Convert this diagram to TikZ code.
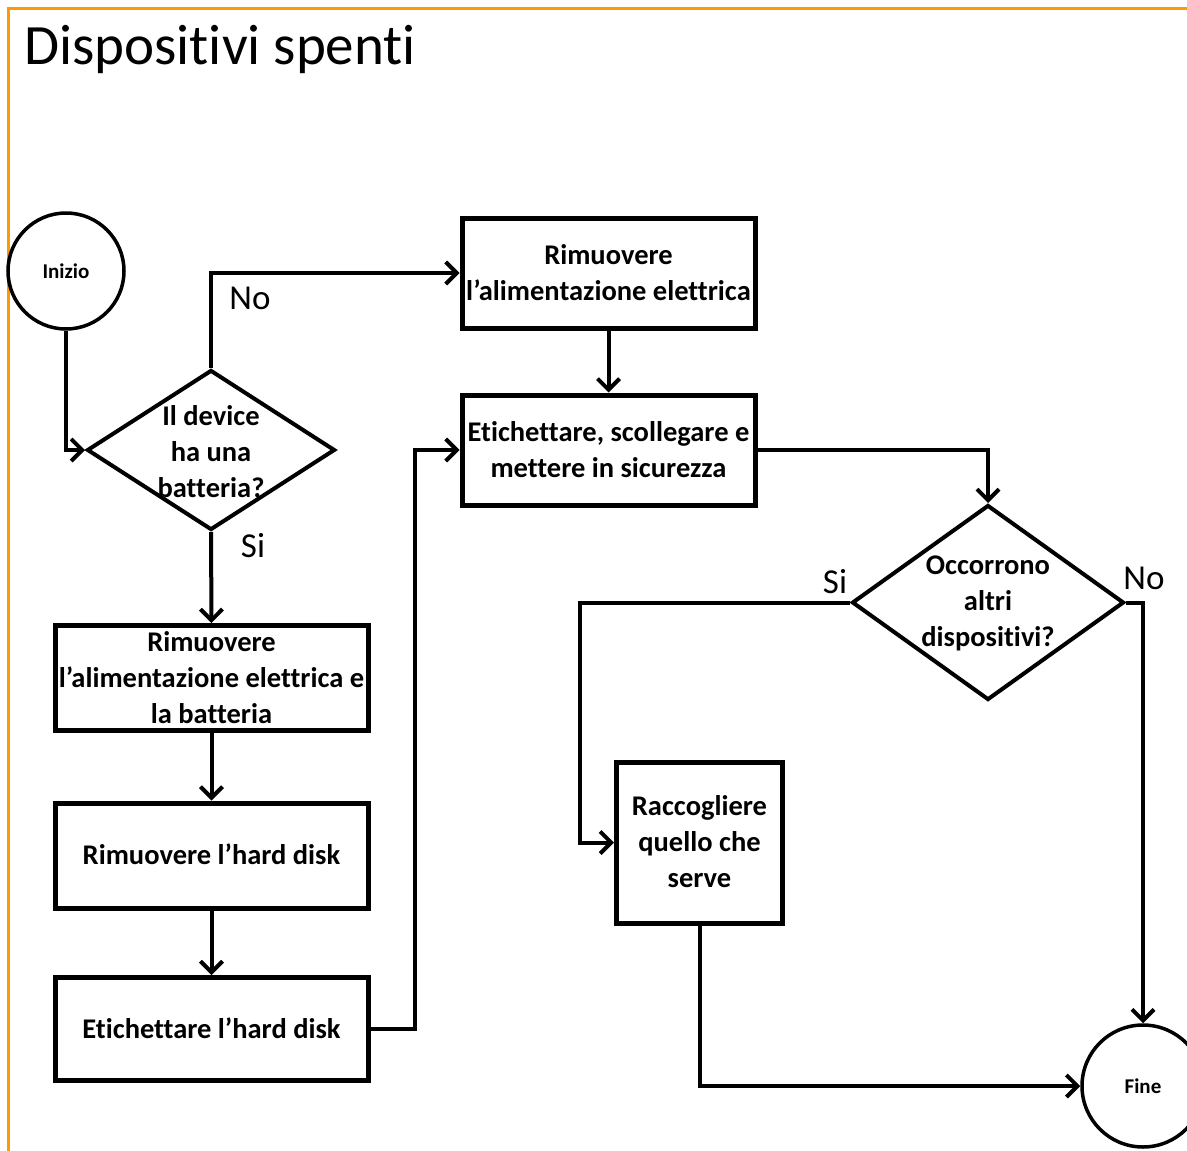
\documentclass[tikz,border=0pt]{standalone}
\usepackage{fontspec}
\setmainfont{Carlito}[Ligatures=NoCommon]
\usetikzlibrary{shapes.geometric,arrows.meta}
\definecolor{frameorange}{RGB}{255,153,0}
\begin{document}
\begin{tikzpicture}[x=1pt,y=-1pt,
  stepbox/.style={draw,line width=5pt,rectangle,inner sep=1pt,align=center,
    font=\bfseries\fontsize{28.5}{36}\selectfont,text depth=2pt},
  qtext/.style={align=center,font=\bfseries\fontsize{28.5}{36}\selectfont},
  terminal/.style={draw,line width=3.5pt,circle,inner sep=0pt,
    font=\bfseries\fontsize{21}{24}\selectfont},
  answer/.style={font=\fontsize{35}{40}\selectfont},
  flow/.style={line width=4pt,-{Straight Barb[length=11pt,width=22pt,line width=4pt]}}]
\useasboundingbox (0,0) rectangle (1187,1151);
\fill[white] (0,0) rectangle (1187,1151);

% slide frame and title
\draw[frameorange,line width=3pt] (8,1151) -- (8,8) -- (1187,8);
\node[anchor=base west,inner sep=0pt,font=\fontsize{57}{68}\selectfont] (title) at (24,64) {Dispositivi spenti};

% start / end
\node[terminal,minimum size=116pt] (inizio) at (66,271) {Inizio};
\node[terminal,minimum size=122pt] (fine) at (1143,1086) {Fine};

% first decision
\node[draw,line width=4pt,diamond,inner sep=0pt,minimum width=248pt,minimum height=160pt,aspect=1.55] (d1) at (211,450) {};
\node[qtext] (d1t) at (211,452) {Il device\\ha una\\batteria?};

% left column
\node[stepbox,minimum width=313pt,minimum height=105pt] (b3) at (211.5,678) {Rimuovere\\l’alimentazione elettrica e\\la batteria};
\node[stepbox,minimum width=313pt,minimum height=105pt] (b4) at (211.5,855.5) {Rimuovere l’hard disk};
\node[stepbox,minimum width=313pt,minimum height=103pt] (b5) at (211.5,1029) {Etichettare l’hard disk};

% middle column
\node[stepbox,minimum width=293pt,minimum height=110pt] (b1) at (608.5,273) {Rimuovere\\l’alimentazione elettrica};
\node[stepbox,minimum width=293pt,minimum height=110pt] (b2) at (608.5,450) {Etichettare, scollegare e\\mettere in sicurezza};

% second decision
\node[draw,line width=4pt,diamond,inner sep=0pt,minimum width=272pt,minimum height=195pt,aspect=1.4] (d2) at (988,602.5) {};
\node[qtext] (d2t) at (988,603) {Occorrono\\altri\\dispositivi?};

\node[stepbox,minimum width=166pt,minimum height=161pt] (b6) at (699.5,842.5) {Raccogliere\\quello che\\serve};

% answer labels
\node[answer] (no1) at (250,298) {No};
\node[answer] (si1) at (253,546) {Si};
\node[answer] (si2) at (835,582) {Si};
\node[answer] (no2) at (1144,578) {No};

% bend points
\coordinate (j1) at (415,1029);
\coordinate (j2) at (580,602.5);
\coordinate (j3) at (1143,602.5);

% connectors
\draw[flow] (inizio.south) |- (d1.west);
\draw[flow] (d1.north) |- (b1.west);
\draw[flow] (b1.south) -- (b2.north);
\draw[flow] (d1.south) -- (b3.north);
\draw[flow] (b3.south) -- (b4.north);
\draw[flow] (b4.south) -- (b5.north);
\draw[flow] (b5.east) -- (j1) |- (b2.west);
\draw[flow] (b2.east) -| (d2.north);
\draw[flow] (d2.west) -- (j2) |- (b6.west);
\draw[flow] (d2.east) -- (j3) -- (fine.north);
\draw[flow] (b6.south) |- (fine.west);
\end{tikzpicture}
\end{document}
